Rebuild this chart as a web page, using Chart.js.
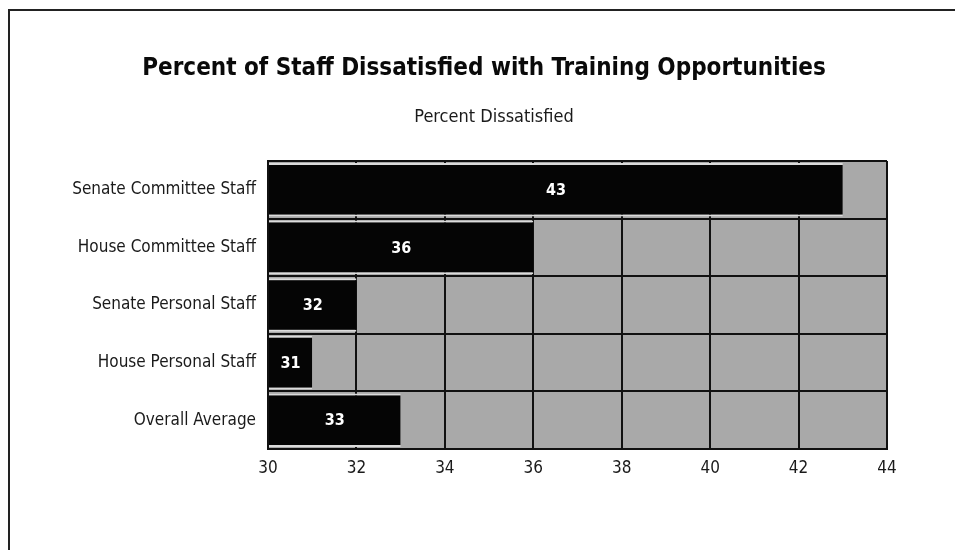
<!DOCTYPE html>
<html>
<head>
<meta charset="utf-8">
<script src="https://cdn.jsdelivr.net/npm/chart.js@4/dist/chart.umd.min.js"></script>
<style>
  html, body { margin: 0; padding: 0; background: #fff; }
  #wrap { position: relative; width: 955px; height: 550px; }
</style>
</head>
<body>
<div id="wrap"><canvas id="chart" width="955" height="550"></canvas></div>
<script>
// staff groups and the share of each that is dissatisfied
const groups = ['Senate Committee Staff', 'House Committee Staff', 'Senate Personal Staff', 'House Personal Staff', 'Overall Average'];
const pctDissatisfied = [43, 36, 32, 31, 33];
const xTicks = [30, 32, 34, 36, 38, 40, 42, 44];

const chartTitle = 'Percent of Staff Dissatisfied with Training Opportunities';
const axisTitle = 'Percent Dissatisfied';

const COND = '"DejaVu Sans Condensed", "Liberation Sans Narrow", sans-serif';

// page frame, headings and grey plot field behind the bars
const backdrop = {
  id: 'backdrop',
  beforeDraw(chart) {
    const { ctx, chartArea: a } = chart;
    ctx.save();
    ctx.fillStyle = '#fff';
    ctx.fillRect(0, 0, chart.width, chart.height);
    ctx.strokeStyle = '#222';
    ctx.lineWidth = 2;
    ctx.beginPath();
    ctx.moveTo(9, chart.height);
    ctx.lineTo(9, 10);
    ctx.lineTo(chart.width, 10);
    ctx.stroke();

    ctx.textAlign = 'center';
    ctx.textBaseline = 'middle';
    ctx.fillStyle = '#0a0a0a';
    ctx.font = 'bold 24px ' + COND;
    ctx.fillText(chartTitle, 484, 69);
    ctx.fillStyle = '#1a1a1a';
    ctx.font = '18px ' + COND;
    ctx.fillText(axisTitle, 494, 117);

    ctx.fillStyle = '#a9a9a9';
    ctx.fillRect(a.left, a.top, a.right - a.left, a.bottom - a.top);
    ctx.restore();
  }
};

// value printed in white in the middle of each bar
const barValues = {
  id: 'barValues',
  afterDatasetsDraw(chart) {
    const ctx = chart.ctx;
    const meta = chart.getDatasetMeta(0);
    ctx.save();
    ctx.fillStyle = '#ffffff';
    ctx.font = 'bold 16px ' + COND;
    ctx.textAlign = 'center';
    ctx.textBaseline = 'middle';
    meta.data.forEach((bar, i) => {
      ctx.fillText(String(pctDissatisfied[i]), (bar.x + bar.base) / 2, bar.y + 1);
    });
    ctx.restore();
  }
};

new Chart(document.getElementById('chart'), {
  type: 'bar',
  data: {
    labels: groups,
    datasets: [{
      data: pctDissatisfied,
      base: 30,
      backgroundColor: '#050505',
      borderColor: '#dcdcdc',
      borderWidth: { top: 2, bottom: 2, left: 0, right: 0 },
      borderSkipped: false,
      barPercentage: 0.93,
      categoryPercentage: 1
    }]
  },
  options: {
    indexAxis: 'y',
    responsive: false,
    animation: false,
    layout: { padding: { top: 161, right: 68, bottom: 0, left: 0 } },
    plugins: {
      legend: { display: false },
      tooltip: { enabled: false },
      title: { display: false }
    },
    scales: {
      x: {
        min: 30, max: 44,
        afterBuildTicks: s => { s.ticks = xTicks.map(v => ({ value: v })); },
        grid: { color: '#111', lineWidth: 2, drawTicks: false },
        border: { color: '#111', width: 2 },
        ticks: { color: '#1a1a1a', font: { family: COND, size: 17 }, padding: 9 },
        afterFit: s => { s.height = 101; }
      },
      y: {
        grid: { color: '#111', lineWidth: 2, drawTicks: false, offset: true },
        border: { color: '#111', width: 2 },
        ticks: { color: '#1a1a1a', font: { family: COND, size: 17 }, padding: 12 },
        afterFit: s => { s.width = 268; }
      }
    }
  },
  plugins: [backdrop, barValues]
});
</script>
</body>
</html>
